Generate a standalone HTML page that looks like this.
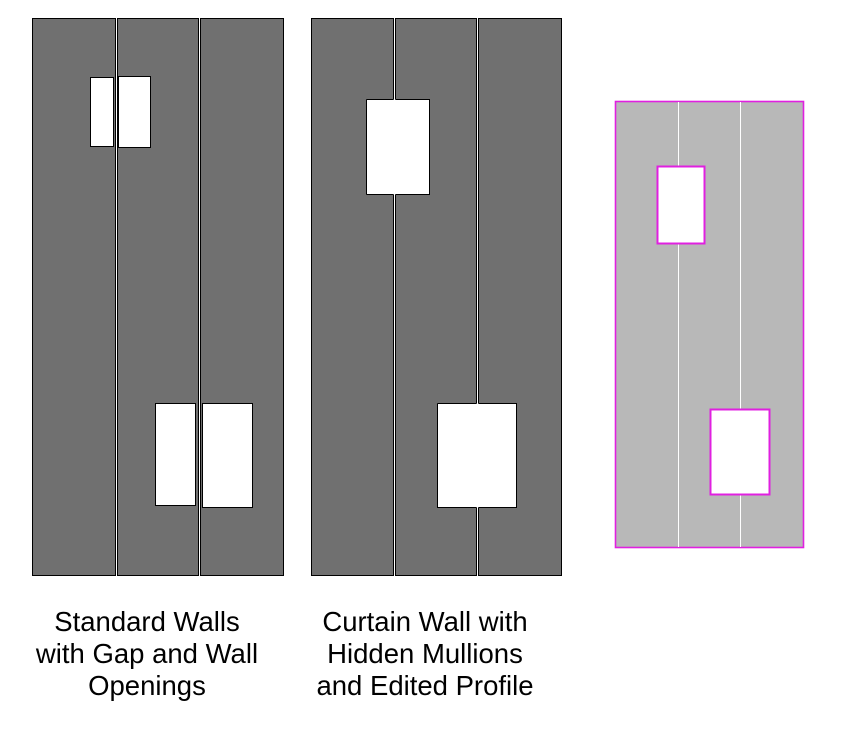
<!DOCTYPE html>
<html><head><style>body{margin:0;background:#fff}svg{display:block}</style></head><body>
<svg width="858" height="736" xmlns="http://www.w3.org/2000/svg">
<g fill="#707070" stroke="#000" stroke-width="1">
<rect x="32.5" y="18.5" width="83" height="557"/>
<rect x="117.5" y="18.5" width="81" height="557"/>
<rect x="200.5" y="18.5" width="83" height="557"/>
<rect x="311.5" y="18.5" width="82" height="557"/>
<rect x="395.5" y="18.5" width="81" height="557"/>
<rect x="478.5" y="18.5" width="83" height="557"/>
</g>
<g fill="#fff" stroke="#000" stroke-width="1">
<rect x="90.5" y="77.5" width="23" height="69"/>
<rect x="118.5" y="76.5" width="32" height="71"/>
<rect x="155.5" y="403.5" width="40" height="102"/>
<rect x="202.5" y="403.5" width="50" height="104"/>
</g>
<g fill="#fff" stroke="none">
<rect x="366.5" y="99.5" width="63" height="95"/>
<rect x="437.5" y="403.5" width="79" height="104"/>
</g>
<g fill="none" stroke="#000" stroke-width="1">
<path d="M366.5 99.5 H393.5 M395.5 99.5 H429.5 V194.5 H395.5 M393.5 194.5 H366.5 Z"/>
<path d="M366.5 99.5 V194.5"/>
<path d="M437.5 403.5 H476.5 M478.5 403.5 H516.5 V507.5 H478.5 M476.5 507.5 H437.5 V403.5"/>
</g>
<rect x="615.5" y="101.5" width="188" height="446" fill="#b8b8b8" stroke="#e020e0" stroke-width="1.6"/>
<line x1="678.5" y1="102" x2="678.5" y2="547" stroke="#fff" stroke-width="1"/>
<line x1="740.5" y1="102" x2="740.5" y2="547" stroke="#fff" stroke-width="1"/>
<rect x="657.5" y="166.5" width="47" height="77" fill="#fff" stroke="#e020e0" stroke-width="2"/>
<rect x="710.5" y="409.5" width="59" height="85" fill="#fff" stroke="#e020e0" stroke-width="2"/>
<g font-family="Liberation Sans, sans-serif" font-size="27.5" fill="#000" text-anchor="middle">
<text x="147" y="631">Standard Walls</text>
<text x="147" y="663">with Gap and Wall</text>
<text x="147" y="695">Openings</text>
<text x="425" y="631">Curtain Wall with</text>
<text x="425" y="663">Hidden Mullions</text>
<text x="425" y="695">and Edited Profile</text>
</g>
</svg>
</body></html>
